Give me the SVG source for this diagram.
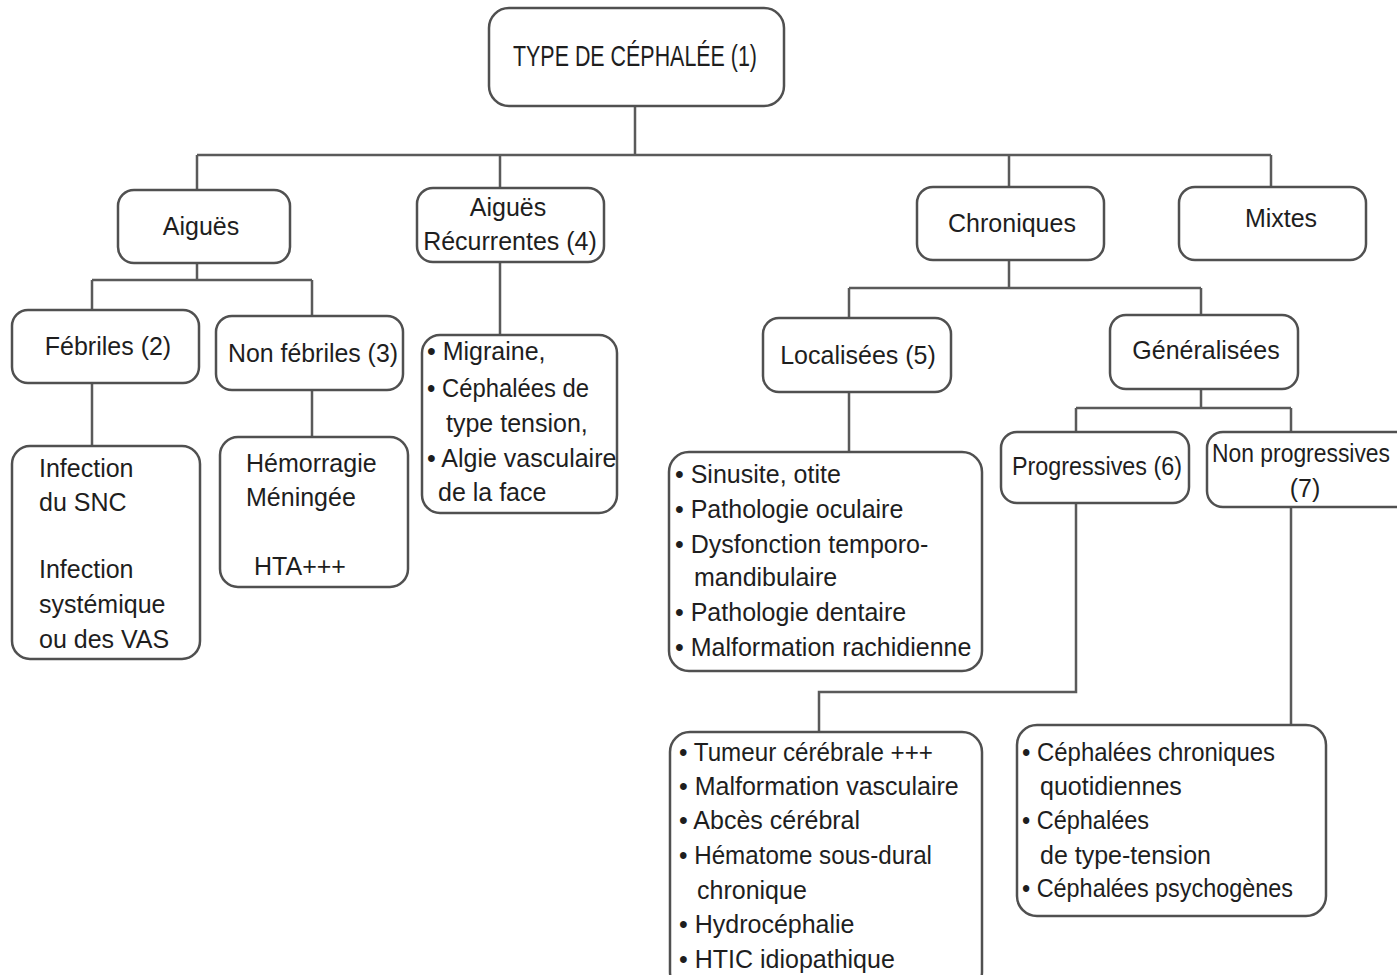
<svg xmlns="http://www.w3.org/2000/svg" width="1397" height="975" viewBox="0 0 1397 975">
<style>
.box{fill:#fff;stroke:#505050;stroke-width:2.5}
.ln{fill:none;stroke:#5a5a5a;stroke-width:2.5}
text{font-family:"Liberation Sans",Arial,sans-serif;font-size:25px;fill:#1e1e1e}
.c{text-anchor:middle}
.t{font-size:29px}
</style>
<rect width="1397" height="975" fill="#fff"/>
<g id="connectors">
<path class="ln" d="M635 106V155M197 155H1271M197 155V190M500 155V188M1009 155V187M1271 155V187"/>
<path class="ln" d="M197 263V280M92 280H312M92 280V310M312 280V316"/>
<path class="ln" d="M92 383V446M312 390V437M500 262V335"/>
<path class="ln" d="M1009 260V288M849 288H1201M849 288V318M1201 288V315"/>
<path class="ln" d="M849 392V452M1201 389V408M1076 408H1291M1076 408V432M1291 408V432"/>
<path class="ln" d="M1076 503V692H819V732M1291 507V725"/>
</g>
<g id="root"><rect class="box" x="489" y="8" width="295" height="98" rx="20"/><text x="635" y="66" class="c t" textLength="244" lengthAdjust="spacingAndGlyphs">TYPE DE CÉPHALÉE (1)</text></g>
<g id="aigues"><rect class="box" x="118" y="190" width="172" height="73" rx="16"/><text x="201" y="235" class="c">Aiguës</text></g>
<g id="aigues-recurrentes"><rect class="box" x="417" y="188" width="187" height="74" rx="16"/><text x="508" y="216" class="c">Aiguës</text><text x="510" y="250" class="c">Récurrentes (4)</text></g>
<g id="chroniques"><rect class="box" x="917" y="187" width="187" height="73" rx="16"/><text x="1012" y="232" class="c">Chroniques</text></g>
<g id="mixtes"><rect class="box" x="1179" y="187" width="187" height="73" rx="16"/><text x="1281" y="227" class="c">Mixtes</text></g>
<g id="febriles"><rect class="box" x="12" y="310" width="187" height="73" rx="16"/><text x="108" y="355" class="c">Fébriles (2)</text></g>
<g id="non-febriles"><rect class="box" x="216" y="316" width="187" height="74" rx="16"/><text x="313" y="362" class="c" textLength="170" lengthAdjust="spacingAndGlyphs">Non fébriles (3)</text></g>
<g id="infection"><rect class="box" x="12" y="446" width="188" height="213" rx="18"/>
<text x="39" y="477">Infection</text><text x="39" y="511">du SNC</text><text x="39" y="578">Infection</text><text x="39" y="613">systémique</text><text x="39" y="648">ou des VAS</text></g>
<g id="hemorragie"><rect class="box" x="220" y="437" width="188" height="150" rx="18"/>
<text x="246" y="472">Hémorragie</text><text x="246" y="506">Méningée</text><text x="254" y="575">HTA+++</text></g>
<g id="migraine"><rect class="box" x="422" y="335" width="195" height="178" rx="18"/>
<text x="427" y="360">• Migraine,</text><text x="427" y="397" textLength="162" lengthAdjust="spacingAndGlyphs">• Céphalées de</text><text x="446" y="432">type tension,</text><text x="427" y="467">• Algie vasculaire</text><text x="438" y="501">de la face</text></g>
<g id="localisees"><rect class="box" x="763" y="318" width="188" height="74" rx="16"/><text x="858" y="364" class="c">Localisées (5)</text></g>
<g id="generalisees"><rect class="box" x="1110" y="315" width="188" height="74" rx="16"/><text x="1206" y="359" class="c">Généralisées</text></g>
<g id="sinusite"><rect class="box" x="669" y="452" width="313" height="219" rx="20"/>
<text x="675" y="483">• Sinusite, otite</text><text x="675" y="518">• Pathologie oculaire</text><text x="675" y="553">• Dysfonction temporo-</text><text x="694" y="586">mandibulaire</text><text x="675" y="621">• Pathologie dentaire</text><text x="675" y="656">• Malformation rachidienne</text></g>
<g id="progressives"><rect class="box" x="1001" y="432" width="188" height="71" rx="16"/><text x="1097" y="475" class="c" textLength="170" lengthAdjust="spacingAndGlyphs">Progressives (6)</text></g>
<g id="non-progressives"><rect class="box" x="1207" y="432" width="210" height="75" rx="16"/><text x="1212" y="462" textLength="178" lengthAdjust="spacingAndGlyphs">Non progressives</text><text x="1305" y="497" class="c">(7)</text></g>
<g id="tumeur"><rect class="box" x="670" y="732" width="312" height="260" rx="20"/>
<text x="679" y="761" textLength="254" lengthAdjust="spacingAndGlyphs">• Tumeur cérébrale +++</text><text x="679" y="795">• Malformation vasculaire</text><text x="679" y="829">• Abcès cérébral</text><text x="679" y="864" textLength="253" lengthAdjust="spacingAndGlyphs">• Hématome sous-dural</text><text x="697" y="899">chronique</text><text x="679" y="933">• Hydrocéphalie</text><text x="679" y="968">• HTIC idiopathique</text></g>
<g id="cephalees"><rect class="box" x="1017" y="725" width="309" height="191" rx="20"/>
<text x="1022" y="761" textLength="253" lengthAdjust="spacingAndGlyphs">• Céphalées chroniques</text><text x="1040" y="795">quotidiennes</text><text x="1022" y="829" textLength="127" lengthAdjust="spacingAndGlyphs">• Céphalées</text><text x="1040" y="864">de type-tension</text><text x="1022" y="897" textLength="271" lengthAdjust="spacingAndGlyphs">• Céphalées psychogènes</text></g>
</svg>
